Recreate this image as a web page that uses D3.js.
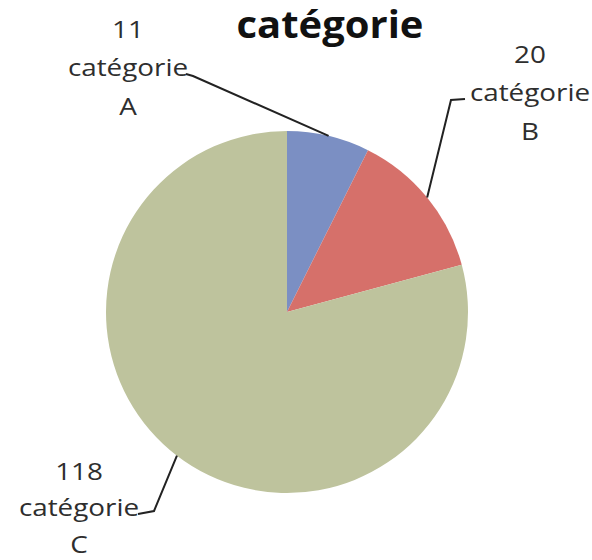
<!DOCTYPE html>
<html>
<head>
<meta charset="utf-8">
<script src="https://cdn.jsdelivr.net/npm/d3@7"></script>
<style>
  html, body { margin: 0; padding: 0; background: #fff; }
  svg { display: block; }
  text { font-family: "Open Sans", "DejaVu Sans", sans-serif; fill: #2e2e2e; }
</style>
</head>
<body>
<svg id="chart" width="592" height="560"></svg>
<script>
// Chart data
const title = "catégorie";
const categories = ["catégorie", "catégorie", "catégorie"];
const letters = ["A", "B", "C"];
const values = [11, 20, 118];
const colors = ["#7b8fc3", "#d6706a", "#bec39d"];

const cx = 287, cy = 312, R = 181;

const svg = d3.select("#chart");

// Pie in data order, clockwise from 12 o'clock
const pie = d3.pie().sort(null).value(d => d.value);
const arcs = pie(values.map((v, i) => ({
  value: v, name: categories[i], letter: letters[i], color: colors[i]
})));
const arc = d3.arc().innerRadius(0).outerRadius(R);

svg.append("g")
  .attr("transform", `translate(${cx},${cy})`)
  .selectAll("path")
  .data(arcs)
  .join("path")
  .attr("d", arc)
  .attr("fill", d => d.data.color);

// Title
svg.append("g")
  .attr("transform", "translate(330,38) scale(1.08,1)")
  .append("text")
  .attr("text-anchor", "middle")
  .style("font-size", "37px")
  .style("font-weight", "700")
  .style("fill", "#111")
  .text(title);

// Label blocks: centre x, first baseline, line spacing, and the leader
// line's attachment point and elbow beside the label
const labelLayout = [
  { x: 128, y: 38, gap: 38.5, attach: [186, 74], elbow: [193, 76] },
  { x: 530, y: 63, gap: 38.5, attach: [465, 99], elbow: [451, 100] },
  { x: 79, y: 480, gap: 36.5, attach: [138, 514], elbow: [154, 511] }
];

arcs.forEach((d, i) => {
  const p = labelLayout[i];
  const lg = svg.append("g").attr("transform", `translate(${p.x},0) scale(1.16,1)`);
  [String(d.data.value), d.data.name, d.data.letter].forEach((t, k) => {
    lg.append("text")
      .attr("x", 0)
      .attr("y", p.y + k * p.gap)
      .attr("text-anchor", "middle")
      .style("font-size", "24px")
      .text(t);
  });

  // Leader line ends on the slice's outer edge at its middle angle
  const [ex, ey] = d3.arc().innerRadius(R).outerRadius(R).centroid(d);
  svg.append("path")
    .attr("d", d3.line()([p.attach, p.elbow, [cx + ex, cy + ey]]))
    .attr("fill", "none")
    .attr("stroke", "#222")
    .attr("stroke-width", 2);
});
</script>
</body>
</html>
